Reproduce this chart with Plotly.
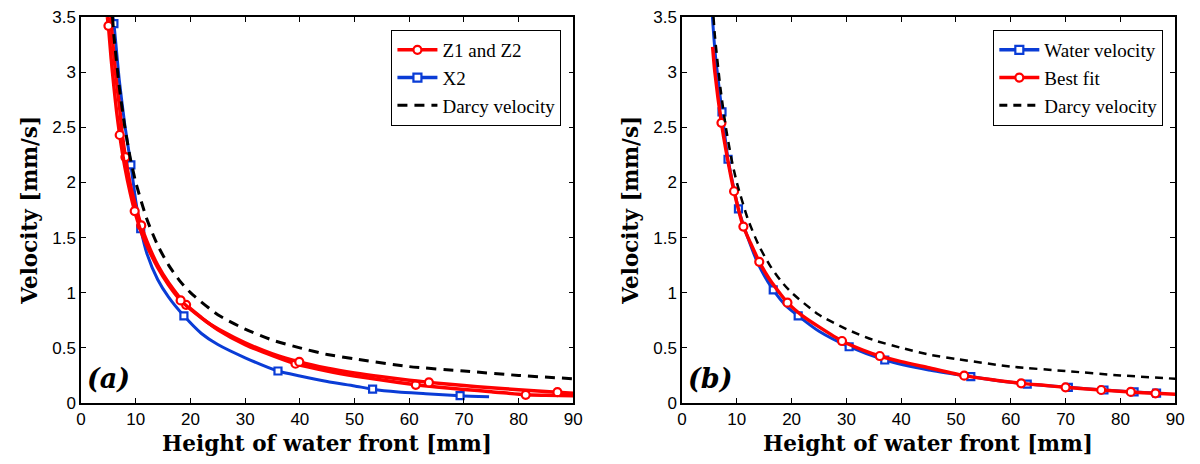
import plotly.graph_objects as go

# ---------------- Panel (a) data ----------------
z1_h = [4.8, 5.0, 5.5, 6.0, 6.5, 7.06, 8.0, 9.0, 9.8, 11, 12, 14, 16, 18.2, 20, 23, 26, 30, 35, 39.9, 45, 50, 55, 60, 63.6, 70, 75, 80, 87.1, 90]
z1_v = [3.5, 3.42, 3.12, 2.87, 2.64, 2.43, 2.14, 1.9, 1.74, 1.55, 1.43, 1.23, 1.07, 0.93, 0.85, 0.735, 0.645, 0.545, 0.445, 0.372, 0.315, 0.272, 0.237, 0.207, 0.187, 0.158, 0.138, 0.121, 0.098, 0.088]
z1_mark_h = [5.0, 7.06, 9.8, 18.2, 39.9, 63.6, 87.1]
z1_mark_v = [3.42, 2.43, 1.74, 0.93, 0.372, 0.187, 0.098]

z2_h = [5.4, 6.0, 6.5, 7.0, 7.5, 8.1, 9.0, 10, 11, 12, 14, 16, 19.2, 22, 25, 30, 35, 39.2, 45, 50, 55, 61.2, 65, 70, 75, 81.3, 85, 90]
z2_v = [3.5, 3.15, 2.9, 2.7, 2.45, 2.23, 1.98, 1.78, 1.61, 1.47, 1.25, 1.09, 0.89, 0.775, 0.665, 0.53, 0.43, 0.356, 0.29, 0.245, 0.208, 0.165, 0.145, 0.122, 0.103, 0.074, 0.07, 0.066]
z2_mark_h = [8.1, 11, 19.2, 39.2, 61.2, 81.3]
z2_mark_v = [2.23, 1.61, 0.89, 0.356, 0.165, 0.074]

x2_h = [5.8, 6.0, 7.0, 8.0, 9.1, 10.0, 10.9, 12, 14, 16, 18.8, 22, 25, 30, 36, 40, 45, 50, 53.3, 58, 63, 69.3, 74.6]
x2_v = [3.5, 3.44, 2.92, 2.52, 2.16, 1.83, 1.58, 1.36, 1.12, 0.96, 0.79, 0.63, 0.53, 0.41, 0.29, 0.245, 0.195, 0.155, 0.125, 0.1, 0.085, 0.066, 0.057]
x2_mark_h = [6.0, 9.1, 10.9, 18.8, 36, 53.3, 69.3]
x2_mark_v = [3.44, 2.16, 1.58, 0.79, 0.29, 0.125, 0.066]

darcy_h = [5.75, 6, 7, 8, 9, 10, 12, 14, 16, 18, 20, 25, 30, 35, 40, 45, 50, 60, 70, 80, 90]
darcy_v = [3.5, 3.33, 2.86, 2.5, 2.22, 2.0, 1.67, 1.43, 1.25, 1.11, 1.0, 0.8, 0.67, 0.57, 0.5, 0.44, 0.4, 0.33, 0.29, 0.25, 0.22]

# ---------------- Panel (b) data ----------------
water_h = [5.55, 6.0, 7.3, 8.4, 10.3, 12, 14, 16.65, 19, 21.2, 25, 30.5, 37, 45, 52.7, 58, 63, 70.5, 77, 82.5, 87.2]
water_v = [3.5, 3.2, 2.64, 2.21, 1.76, 1.5, 1.25, 1.025, 0.88, 0.79, 0.65, 0.51, 0.39, 0.3, 0.24, 0.2, 0.172, 0.142, 0.118, 0.1, 0.088]
water_mark_h = [7.3, 8.4, 10.3, 16.65, 21.2, 30.5, 37, 52.7, 63, 70.5, 77, 82.5, 86.6]
water_mark_v = [2.64, 2.21, 1.76, 1.025, 0.79, 0.51, 0.39, 0.24, 0.172, 0.142, 0.118, 0.1, 0.09]

fit_h = [5.59, 6.0, 7.2, 8.0, 9.5, 11.2, 12.5, 14.1, 16, 19.24, 22, 25, 29.2, 33, 36.1, 40, 45, 51.5, 56, 61.9, 66, 70, 76.5, 81.9, 86.4, 90]
fit_v = [3.23, 3.0, 2.54, 2.3, 1.92, 1.6, 1.45, 1.28, 1.12, 0.91, 0.79, 0.69, 0.562, 0.48, 0.426, 0.375, 0.32, 0.248, 0.215, 0.178, 0.16, 0.142, 0.118, 0.1, 0.088, 0.08]
fit_mark_h = [7.2, 9.5, 11.2, 14.1, 19.24, 29.2, 36.1, 51.5, 61.9, 70, 76.5, 81.9, 86.4]
fit_mark_v = [2.54, 1.92, 1.6, 1.28, 0.91, 0.562, 0.426, 0.248, 0.178, 0.142, 0.118, 0.1, 0.088]

x_ticks = [0, 10, 20, 30, 40, 50, 60, 70, 80, 90]
y_ticks = [0, 0.5, 1, 1.5, 2, 2.5, 3, 3.5]

RED = "#ff0000"
BLUE = "#0a3cd6"
BLACK = "#000000"
SERIF = "Liberation Serif"
SANS = "Liberation Sans"

fig = go.Figure()


def line(x, y, color, width, xa, ya, dash=None):
    fig.add_trace(go.Scatter(x=x, y=y, mode="lines", xaxis=xa, yaxis=ya,
                             line=dict(color=color, width=width, shape="spline", smoothing=0.6, dash=dash),
                             showlegend=False, hoverinfo="skip"))


def marks(x, y, color, symbol, size, xa, ya):
    fig.add_trace(go.Scatter(x=x, y=y, mode="markers", xaxis=xa, yaxis=ya,
                             marker=dict(symbol=symbol, size=size, color="white",
                                         line=dict(color=color, width=2.2)),
                             showlegend=False, hoverinfo="skip"))


def legend_item(name, color, width, symbol, legend, dash=None):
    mode = "lines+markers" if symbol else "lines"
    fig.add_trace(go.Scatter(x=[None], y=[None], mode=mode, name=name, legend=legend,
                             line=dict(color=color, width=width, dash=dash),
                             marker=dict(symbol=symbol or "circle", size=8, color="white",
                                         line=dict(color=color, width=2.2)),
                             showlegend=True))


# Panel (a)
line(x2_h, x2_v, BLUE, 3, "x", "y")
marks(x2_mark_h, x2_mark_v, BLUE, "square", 7, "x", "y")
line(z2_h, z2_v, RED, 3.5, "x", "y")
marks(z2_mark_h, z2_mark_v, RED, "circle", 8, "x", "y")
line(z1_h, z1_v, RED, 3.5, "x", "y")
marks(z1_mark_h, z1_mark_v, RED, "circle", 8, "x", "y")
line(darcy_h, darcy_v, BLACK, 3, "x", "y", dash="10px,7px")

# Panel (b)
line(water_h, water_v, BLUE, 3, "x2", "y2")
marks(water_mark_h, water_mark_v, BLUE, "square", 7, "x2", "y2")
line(fit_h, fit_v, RED, 3.5, "x2", "y2")
marks(fit_mark_h, fit_mark_v, RED, "circle", 8, "x2", "y2")
line(darcy_h, darcy_v, BLACK, 2.5, "x2", "y2", dash="8px,6px")

# Legends
legend_item("Z1 and Z2", RED, 3.5, "circle", "legend")
legend_item("X2", BLUE, 3.5, "square", "legend")
legend_item("Darcy velocity", BLACK, 3, None, "legend", dash="10px,7px")
legend_item("Water velocity", BLUE, 3.5, "square", "legend2")
legend_item("Best fit", RED, 3.5, "circle", "legend2")
legend_item("Darcy velocity", BLACK, 3, None, "legend2", dash="8px,6px")

axis_common = dict(range=[0, 90], tickvals=x_ticks, ticks="inside", ticklen=5, tickwidth=1,
                   tickcolor=BLACK, showline=True, linecolor=BLACK, linewidth=1.5, mirror="allticks",
                   showgrid=False, zeroline=False, tickfont=dict(family=SANS, size=17, color=BLACK))
yaxis_common = dict(range=[0, 3.5], tickvals=y_ticks, ticks="inside", ticklen=5, tickwidth=1,
                    tickcolor=BLACK, showline=True, linecolor=BLACK, linewidth=1.5, mirror="allticks",
                    showgrid=False, zeroline=False, tickfont=dict(family=SANS, size=17, color=BLACK))

leg_common = dict(bgcolor="white", bordercolor=BLACK, borderwidth=1,
                  font=dict(family=SERIF, size=19, color=BLACK),
                  xanchor="right", yanchor="top", tracegroupgap=0, itemwidth=40)

fig.update_layout(
    width=1200, height=464,
    margin=dict(l=0, r=0, t=17, b=61),
    paper_bgcolor="white", plot_bgcolor="white",
    xaxis=dict(domain=[77 / 1200, 575 / 1200], anchor="y", **axis_common),
    yaxis=dict(domain=[0, 1], anchor="x", **yaxis_common),
    xaxis2=dict(domain=[685 / 1200, 1184 / 1200], anchor="y2", **axis_common),
    yaxis2=dict(domain=[0, 1], anchor="x2", **yaxis_common),
    legend=dict(x=563 / 1200, y=(403 - 30) / 386, **leg_common),
    legend2=dict(x=1172 / 1200, y=(403 - 30) / 386, **leg_common),
)

title_font = dict(family="DejaVu Serif", size=21.5, color=BLACK)
for xc in [326 / 1200, 934 / 1200]:
    fig.add_annotation(xref="paper", yref="paper", xanchor="center", yanchor="middle",
                       showarrow=False, font=title_font, text="<b>Height of water front [mm]</b>",
                       x=xc, y=0, yshift=-40)
for xc in [24 / 1200, 632 / 1200]:
    fig.add_annotation(xref="paper", yref="paper", x=xc, y=0.5, textangle=-90, showarrow=False,
                       xanchor="center", yanchor="middle", font=title_font,
                       text="<b>Velocity [mm/s]</b>")
for txt, xc in [("(a)", 105 / 1200), ("(b)", 713 / 1200)]:
    fig.add_annotation(xref="paper", yref="paper", x=xc, y=(403 - 378) / 386, showarrow=False,
                       xanchor="center", yanchor="middle",
                       font=dict(family="DejaVu Serif", size=27, color=BLACK),
                       text="<b><i>" + txt + "</i></b>")

fig.write_html("out.html", config={"displayModeBar": False},
               post_script="document.body.style.margin='0';document.body.style.overflow='hidden';")
